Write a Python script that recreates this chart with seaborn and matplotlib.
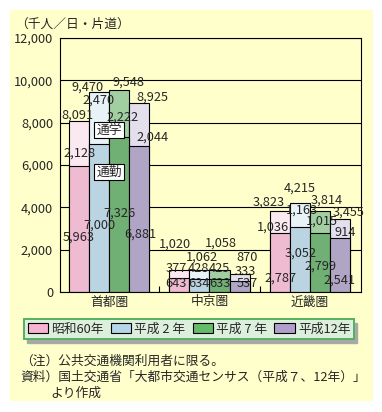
"""Stacked bars: 三大都市圏の鉄道等定期利用者数 (通勤・通学)."""
import matplotlib
matplotlib.use("Agg")
import matplotlib.pyplot as plt
import pandas as pd
import seaborn as sns
from matplotlib.patches import Patch, Rectangle
from matplotlib.ticker import FixedLocator

REGIONS = ["首都圏", "中京圏", "近畿圏"]
YEARS = ["昭和60年", "平成 2 年", "平成 7 年", "平成12年"]
# 通勤 (bottom segment)
COMMUTE = [[5963, 7000, 7326, 6881],
           [643, 634, 633, 537],
           [2787, 3052, 2799, 2541]]
# 通学 (top segment)
SCHOOL = [[2128, 2470, 2222, 2044],
          [377, 428, 425, 333],
          [1036, 1163, 1015, 914]]
TOTAL = [[8091, 9470, 9548, 8925],
         [1020, 1062, 1058, 870],
         [3823, 4215, 3814, 3455]]
Y_TICKS = [0, 2000, 4000, 6000, 8000, 10000, 12000]

BOTTOM_COLORS = ["#f7b3cf", "#b4d6e8", "#66bb6a", "#b09fcc"]
TOP_COLORS = ["#fde6f1", "#e6f4f9", "#9bd69b", "#e2ddee"]
BG = "#ffffcc"

# label placement: (dx in px from bar centre, y in data units)
TOTAL_POS = [[(-2, 8360), (-12, 9680), (9, 9920), (13, 9210)],
             [(-4, 2270), (2, 1650), (1, 2310), (7, 1650)],
             [(-11, 4250), (0, 4910), (7, 4350), (9, 3780)]]
SCHOOL_POS = [[(0, 6570), (-1, 9070), (3, 8270), (13, 7320)],
              [(-3, 1090), (-1, 1090), (0, 1090), (6, 990)],
              [(-7, 3070), (2, 3870), (2, 3350), (5, 2790)]]
COMMUTE_POS = [[(0, 2600), (0, 3170), (0, 3730), (1, 2740)],
               [(-3, 380), (-1, 380), (0, 380), (8, 380)],
               [(1, 660), (1, 1840), (1, 1230), (0, 570)]]

sns.set_theme(style="ticks")
plt.rcParams["font.family"] = ["Noto Sans CJK JP", "DejaVu Sans"]
FS = 9.2

rows = []
for i, reg in enumerate(REGIONS):
    for j, yr in enumerate(YEARS):
        rows.append({"region": reg, "year": yr, "commute": COMMUTE[i][j],
                     "school": SCHOOL[i][j], "total": TOTAL[i][j]})
df = pd.DataFrame(rows)

W, H = 382, 412
fig = plt.figure(figsize=(W / 100, H / 100), dpi=100, facecolor="white")
fig.patches.append(Rectangle((10 / W, 12 / H), 362 / W, 390 / H,
                             transform=fig.transFigure, color=BG, zorder=-10))
ax = fig.add_axes([60 / W, (H - 292) / H, 301 / W, 254 / H])
ax.set_facecolor(BG)

common = dict(data=df, x="region", hue="year", order=REGIONS, hue_order=YEARS,
              width=0.8, gap=0, edgecolor="black", linewidth=0.8,
              errorbar=None, legend=False, ax=ax)
sns.barplot(y="total", palette=TOP_COLORS, **common)
sns.barplot(y="commute", palette=BOTTOM_COLORS, **common)

ax.set_xlim(-0.49, 2.51)
ax.set_ylim(0, 12000)
ax.yaxis.set_major_locator(FixedLocator(Y_TICKS))
ax.set_yticklabels([f"{v:,}" for v in Y_TICKS], fontsize=FS)
ax.tick_params(axis="y", length=0, pad=5)
ax.tick_params(axis="x", length=0, pad=2.5, labelsize=FS)
ax.xaxis.set_minor_locator(FixedLocator([0.5, 1.5]))
ax.tick_params(axis="x", which="minor", direction="in", length=4.5,
               width=0.8, color="black")
ax.set_xlabel("")
ax.set_ylabel("")
ax.set_axisbelow(True)
ax.grid(axis="y", color="black", lw=0.8)
for s in ax.spines.values():
    s.set_color("black")
    s.set_linewidth(0.8)

for i in range(len(REGIONS)):
    for j in range(len(YEARS)):
        xc = i + (j - 1.5) * 0.2
        for val, pos in [(TOTAL[i][j], TOTAL_POS[i][j]),
                         (SCHOOL[i][j], SCHOOL_POS[i][j]),
                         (COMMUTE[i][j], COMMUTE_POS[i][j])]:
            ax.annotate(f"{val:,}", (xc, pos[1]), xytext=(pos[0] * 0.72, 0),
                        textcoords="offset points", ha="center", va="center",
                        fontsize=FS, zorder=5)

box = dict(boxstyle="square,pad=0.15", fc="white", ec="black", lw=0.8)
ax.text(0.0, 7650, "通学", ha="center", va="center", fontsize=FS, bbox=box, zorder=6)
ax.text(0.0, 5670, "通勤", ha="center", va="center", fontsize=FS, bbox=box, zorder=6)

handles = [Patch(facecolor=c, edgecolor="black", lw=0.8) for c in BOTTOM_COLORS]
leg = fig.legend(handles, YEARS, loc="center", ncol=4,
                 bbox_to_anchor=(189 / W, (H - 329) / H), fontsize=FS,
                 frameon=True, fancybox=False, framealpha=1,
                 handlelength=1.6, handleheight=0.8, handletextpad=0.25,
                 columnspacing=0.55, borderpad=0.25)
leg.get_frame().set_facecolor("#dcefdc")
leg.get_frame().set_edgecolor("#55b060")
leg.get_frame().set_linewidth(1.4)

# grey drop shadow under the legend box
fig.canvas.draw()
bb = leg.get_window_extent()
fig.patches.append(Rectangle(((bb.x0 + 3) / W, (bb.y0 - 4) / H), bb.width / W,
                             bb.height / H, transform=fig.transFigure,
                             color="#a8a8a8", zorder=-5))

fig.text(15 / W, (H - 24) / H, "（千人／日・片道）", fontsize=FS, va="center")
fig.text(20 / W, (H - 361) / H, "（注）公共交通機関利用者に限る。", fontsize=FS, va="center")
fig.text(20 / W, (H - 377) / H, "資料）国土交通省「大都市交通センサス（平成７、12年）」",
         fontsize=FS, va="center")
fig.text(50 / W, (H - 393) / H, "より作成", fontsize=FS, va="center")

fig.savefig("out.png", dpi=100, facecolor="white")
